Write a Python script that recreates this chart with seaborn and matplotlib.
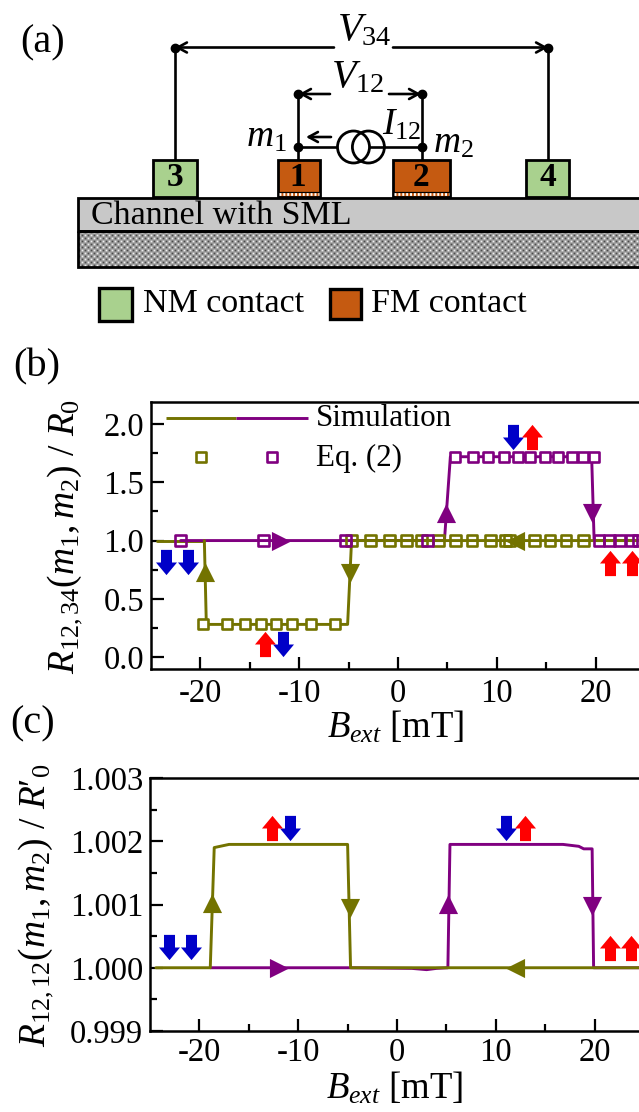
import numpy as np
import matplotlib
matplotlib.use("Agg")
import matplotlib.pyplot as plt
from matplotlib.patches import Rectangle, Circle
from matplotlib.path import Path
import seaborn as sns

# Step 1: data

# panel (b), simulation curves
b_olive_x = [24.6, -4.7, -5.1, -19.4, -19.6, -24.4]
b_olive_y = [1.0, 1.0, 0.28, 0.28, 1.0, 1.0]
b_purple_x = [-22.0, 4.7, 5.3, 19.6, 19.85, 24.6]
b_purple_y = [1.0, 1.0, 1.72, 1.72, 1.0, 1.0]

# panel (b), Eq. (2) squares
eq_olive_low_x = [-19.7, -17.35, -15.5, -13.9, -12.3, -10.7, -8.8, -6.4]
eq_olive_low_y = [0.28] * 8
eq_olive_mid_x = [-4.7, -2.8, -0.87, 0.87, 2.4, 4.1, 5.8, 7.5, 9.35, 10.9, 11.3, 13.8, 15.4, 17.0, 18.8]
eq_olive_mid_y = [1.0] * 15
eq_purple_mid_x = [-22.0, -13.6, -5.3, 3.0, 20.35, 21.4, 22.4, 23.65, 24.3]
eq_purple_mid_y = [1.0] * 9
eq_purple_high_x = [5.8, 7.6, 9.1, 10.75, 12.1, 13.35, 14.9, 16.15, 17.6, 18.7, 19.8]
eq_purple_high_y = [1.72] * 11

# panel (c), simulation curves
c_olive_x = [24.6, -4.7, -5.0, -17.0, -17.9, -18.5, -18.9, -24.4]
c_olive_y = [1.0, 1.0, 1.00195, 1.00195, 1.00192, 1.0019, 1.0, 1.0]
c_purple_x = [-18.9, -5.0, 1.5, 3.0, 4.0, 5.15, 5.36, 16.8, 18.4, 18.9, 19.75, 19.9, 24.6]
c_purple_y = [1.0, 1.0, 0.99999, 0.99997, 0.99999, 1.0, 1.00195, 1.00195, 1.00192, 1.00188, 1.00188, 1.0, 1.0]

# direction triangles: x, y, marker
b_olive_tri = [(-19.5, 0.73, "^"), (-4.9, 0.72, "v"), (11.8, 1.0, "<")]
b_purple_tri = [(-11.8, 1.0, ">"), (4.9, 1.235, "^"), (19.6, 1.24, "v")]
c_olive_tri = [(-18.75, 1.00102, "^"), (-4.8, 1.00095, "v"), (11.9, 1.0, "<")]
c_purple_tri = [(-11.9, 1.0, ">"), (5.2, 1.00101, "^"), (19.75, 1.00097, "v")]

# magnetisation arrows
b_blue_x = [-23.5, -21.3, -11.6, 11.6]
b_blue_y = [0.82, 0.82, 0.11, 1.89]
b_red_x = [-13.5, 13.6, 21.5, 23.65]
b_red_y = [0.11, 1.89, 0.81, 0.81]
c_blue_x = [-23.1, -20.9, -10.8, 11.0]
c_blue_y = [1.00033, 1.00033, 1.00221, 1.00221]
c_red_x = [-12.7, 13.0, 21.6, 23.7]
c_red_y = [1.00221, 1.00221, 1.00032, 1.00032]

x_ticks = [-20, -10, 0, 10, 20]
b_y_ticks = [0.0, 0.5, 1.0, 1.5, 2.0]
b_y_labels = ["0.0", "0.5", "1.0", "1.5", "2.0"]
c_y_ticks = [0.999, 1.000, 1.001, 1.002, 1.003]
c_y_labels = ["0.999", "1.000", "1.001", "1.002", "1.003"]

OLIVE = "#737300"
PURPLE = "#800080"
GREEN = "#A9D18E"
ORANGE = "#C55A11"

# Step 2: style
sns.set_theme(style="ticks")
plt.rcParams["font.family"] = ["Liberation Serif", "DejaVu Serif"]
plt.rcParams["mathtext.fontset"] = "custom"
plt.rcParams["mathtext.rm"] = "Liberation Serif"
plt.rcParams["mathtext.it"] = "Liberation Serif:italic"
plt.rcParams["mathtext.bf"] = "Liberation Serif:bold"
plt.rcParams["text.color"] = "black"
plt.rcParams["xtick.labelcolor"] = "black"
plt.rcParams["ytick.labelcolor"] = "black"
plt.rcParams["xtick.color"] = "black"
plt.rcParams["ytick.color"] = "black"
plt.rcParams["axes.edgecolor"] = "black"
plt.rcParams["axes.unicode_minus"] = False

W, H = 639, 1112
fig = plt.figure(figsize=(W / 100, H / 100), dpi=100)

# block arrow markers, taller than wide
up_arrow = Path([(-0.55, -1.26), (0.55, -1.26), (0.55, 0), (1.05, 0), (0, 1.26), (-1.05, 0), (-0.55, 0), (-0.55, -1.26)], closed=True)
down_arrow = Path([(-0.55, 1.26), (0.55, 1.26), (0.55, 0), (1.05, 0), (0, -1.26), (-1.05, 0), (-0.55, 0), (-0.55, 1.26)], closed=True)


def pixel_axes(left, top, right, bottom):
    return fig.add_axes([left / W, 1 - bottom / H, (right - left) / W, (bottom - top) / H])


def style_axes(ax, xlim, ylim, yticks, ylabels, yminor):
    ax.set_xlim(xlim)
    ax.set_ylim(ylim)
    ax.set_xticks(x_ticks)
    ax.set_xticks([-15, -5, 5, 15, 25], minor=True)
    ax.set_yticks(yticks)
    ax.set_yticklabels(ylabels)
    ax.set_yticks(yminor, minor=True)
    ax.tick_params(which="major", direction="in", length=9, width=1.6, labelsize=23.5, pad=5)
    ax.tick_params(which="minor", direction="in", length=5, width=1.6)
    ax.tick_params(axis="x", which="major", pad=7)
    for s in ax.spines.values():
        s.set_linewidth(1.8)
        s.set_visible(True)
    ax.set_xlabel("")
    ax.set_ylabel("")


def draw_triangles(ax, tris, color):
    for x, y, m in tris:
        sns.scatterplot(x=[x], y=[y], marker=m, s=190, color=color, edgecolor=color, linewidth=0, ax=ax, zorder=5, clip_on=False)


def draw_spins(ax, bx, by, rx, ry):
    ax.scatter(bx, by, marker=down_arrow, s=330, color="#0000C8", linewidths=0, zorder=6)
    ax.scatter(rx, ry, marker=up_arrow, s=330, color="#FF0000", linewidths=0, zorder=6)


def draw_squares(ax, x, y, color, fill="none"):
    sns.scatterplot(x=x, y=y, marker="s", s=58, facecolor=fill, edgecolor=color, linewidth=1.9, ax=ax, zorder=4)


# Step 3: panel (b)
ax_b = pixel_axes(151, 402, 645, 669)
sns.lineplot(x=b_purple_x, y=b_purple_y, color=PURPLE, lw=2.1, sort=False, estimator=None, ax=ax_b, zorder=2)
sns.lineplot(x=b_olive_x[:5], y=b_olive_y[:5], color=OLIVE, lw=2.1, sort=False, estimator=None, ax=ax_b, zorder=3)
sns.lineplot(x=b_olive_x[4:], y=b_olive_y[4:], color=OLIVE, lw=2.1, sort=False, estimator=None, ax=ax_b, zorder=1)
draw_squares(ax_b, eq_olive_low_x, eq_olive_low_y, OLIVE, "white")
draw_squares(ax_b, eq_olive_mid_x, eq_olive_mid_y, OLIVE)
draw_squares(ax_b, eq_purple_mid_x, eq_purple_mid_y, PURPLE)
draw_squares(ax_b, eq_purple_high_x, eq_purple_high_y, PURPLE, "white")
draw_triangles(ax_b, b_olive_tri, OLIVE)
draw_triangles(ax_b, b_purple_tri, PURPLE)
draw_spins(ax_b, b_blue_x, b_blue_y, b_red_x, b_red_y)
style_axes(ax_b, (-25, 25), (-0.103, 2.19), b_y_ticks, b_y_labels, [0.25, 0.75, 1.25, 1.75])

# Step 4: panel (c)
ax_c = pixel_axes(150, 778, 644, 1031)
sns.lineplot(x=c_purple_x, y=c_purple_y, color=PURPLE, lw=2.1, sort=False, estimator=None, ax=ax_c, zorder=2)
sns.lineplot(x=c_olive_x, y=c_olive_y, color=OLIVE, lw=2.1, sort=False, estimator=None, ax=ax_c, zorder=3)
draw_triangles(ax_c, c_olive_tri, OLIVE)
draw_triangles(ax_c, c_purple_tri, PURPLE)
draw_spins(ax_c, c_blue_x, c_blue_y, c_red_x, c_red_y)
style_axes(ax_c, (-25, 25), (0.999, 1.003), c_y_ticks, c_y_labels, [0.9995, 1.0005, 1.0015, 1.0025])
ax_c.tick_params(axis="x", which="major", pad=5)

# Step 5: overlay in pixel coordinates for the schematic and free text
ov = fig.add_axes([0, 0, 1, 1], zorder=10)
ov.axis("off")
ov.patch.set_alpha(0)

# checkered substrate
checker = np.indices((12, 194)).sum(axis=0) % 2
ov.imshow(checker, cmap="gray", vmin=-0.45, vmax=1.1, extent=(78, 660, 267, 231), aspect="auto",
          interpolation="bilinear", zorder=1)
ov.set_xlim(0, W)
ov.set_ylim(H, 0)


def wire(xs, ys, lw=1.9):
    ov.plot(xs, ys, color="black", lw=lw, solid_capstyle="butt", zorder=3)


def arrow(x0, y0, x1, y1, lw=1.9):
    ov.annotate("", xy=(x1, y1), xytext=(x0, y0),
                arrowprops=dict(arrowstyle="->,head_length=0.55,head_width=0.3", color="black", lw=lw, shrinkA=0, shrinkB=0))


def box(x0, y0, x1, y1, color, lw=2.0, z=2):
    ov.add_patch(Rectangle((x0, y0), x1 - x0, y1 - y0, facecolor=color, edgecolor="black", lw=lw, zorder=z))


ov.text(20, 43, "(a)", fontsize=29, va="center", ha="left")
ov.text(13, 367, "(b)", fontsize=29, va="center", ha="left")
ov.text(10, 724, "(c)", fontsize=29, va="center", ha="left")

# channel and substrate
box(78, 198, 660, 231, "#C8C8C8")
box(78, 231, 660, 267, "none")
ov.text(91, 216, "Channel with SML", fontsize=24.5, va="center", ha="left", zorder=5)

# contacts
box(153, 160, 197, 197, GREEN)
box(526, 160, 569, 197, GREEN)
box(278, 160, 320, 197, ORANGE)
box(393, 160, 450, 197, ORANGE)
for x0, x1 in [(279, 319), (394, 449)]:
    wire([x0, x1], [191.5, 191.5], lw=0.9)
    ov.plot([x0, x1], [194.3, 194.3], color="white", lw=2.0, ls=(0, (0.7, 0.7)), zorder=4)
for lab, cx in zip(["3", "1", "2", "4"], [175, 298, 421, 548]):
    ov.text(cx, 178, lab, fontsize=24, fontweight="bold", ha="center", va="center", zorder=5)

# wiring
wire([174.5, 174.5], [47, 160])
wire([548, 548], [47, 160])
arrow(334, 47.5, 175, 47.5)
arrow(393, 47.5, 548, 47.5)
wire([298.4, 298.4], [94, 160])
wire([422, 422], [94, 160])
arrow(330, 94, 299, 94)
arrow(389, 94, 421, 94)
wire([298.4, 422], [147, 147])
ov.add_patch(Circle((353.5, 147), 16, facecolor="white", edgecolor="black", lw=2.0, zorder=4))
ov.add_patch(Circle((368.4, 147), 16, facecolor="none", edgecolor="black", lw=2.0, zorder=4))
arrow(331, 137, 306, 137)
ov.scatter([174.5, 548, 298.4, 422, 298.4, 422], [47.5, 47.5, 94, 94, 147, 147], s=36, color="black", zorder=5)

ov.text(364, 31, r"$V_{34}$", fontsize=29, ha="center", va="center", zorder=5)
ov.text(358, 78, r"$V_{12}$", fontsize=29, ha="center", va="center", zorder=5)
ov.text(402, 125, r"$I_{12}$", fontsize=27, ha="center", va="center", zorder=5)
ov.text(266, 137, r"$m_1$", fontsize=27, ha="center", va="center", zorder=5)
ov.text(453, 143, r"$m_2$", fontsize=27, ha="center", va="center", zorder=5)

# schematic legend
box(99, 288, 132, 321, GREEN, lw=2.4)
ov.text(143, 304, "NM contact", fontsize=24.5, va="center", ha="left")
box(330, 289, 361, 319, ORANGE, lw=2.4)
ov.text(371, 304, "FM contact", fontsize=24.5, va="center", ha="left")

# panel (b) legend
ov.plot([166, 236], [418, 418], color=OLIVE, lw=2.1, solid_capstyle="butt")
ov.plot([236, 308], [418, 418], color=PURPLE, lw=2.1, solid_capstyle="butt")
ov.text(316, 418, "Simulation", fontsize=22.3, va="center", ha="left")
ov.scatter([201], [457], marker="s", s=58, facecolor="none", edgecolor=OLIVE, linewidth=1.9)
ov.scatter([272], [457], marker="s", s=58, facecolor="none", edgecolor=PURPLE, linewidth=1.9)
ov.text(316, 458, "Eq. (2)", fontsize=22.3, va="center", ha="left")

# axis labels
ov.text(396, 727, r"$B_{ext}$ [mT]", fontsize=26.5, ha="center", va="center")
ov.text(395, 1088, r"$B_{ext}$ [mT]", fontsize=26.5, ha="center", va="center")
ov.text(65, 536, r"$R_{12,34}(m_1, m_2)$ / $R_0$", fontsize=27, rotation=90, ha="center", va="center")
ov.text(36, 905, r"$R_{12,12}(m_1, m_2)$ / $R$′$_0$", fontsize=27, rotation=90, ha="center", va="center")

fig.savefig("out.png", dpi=100)
